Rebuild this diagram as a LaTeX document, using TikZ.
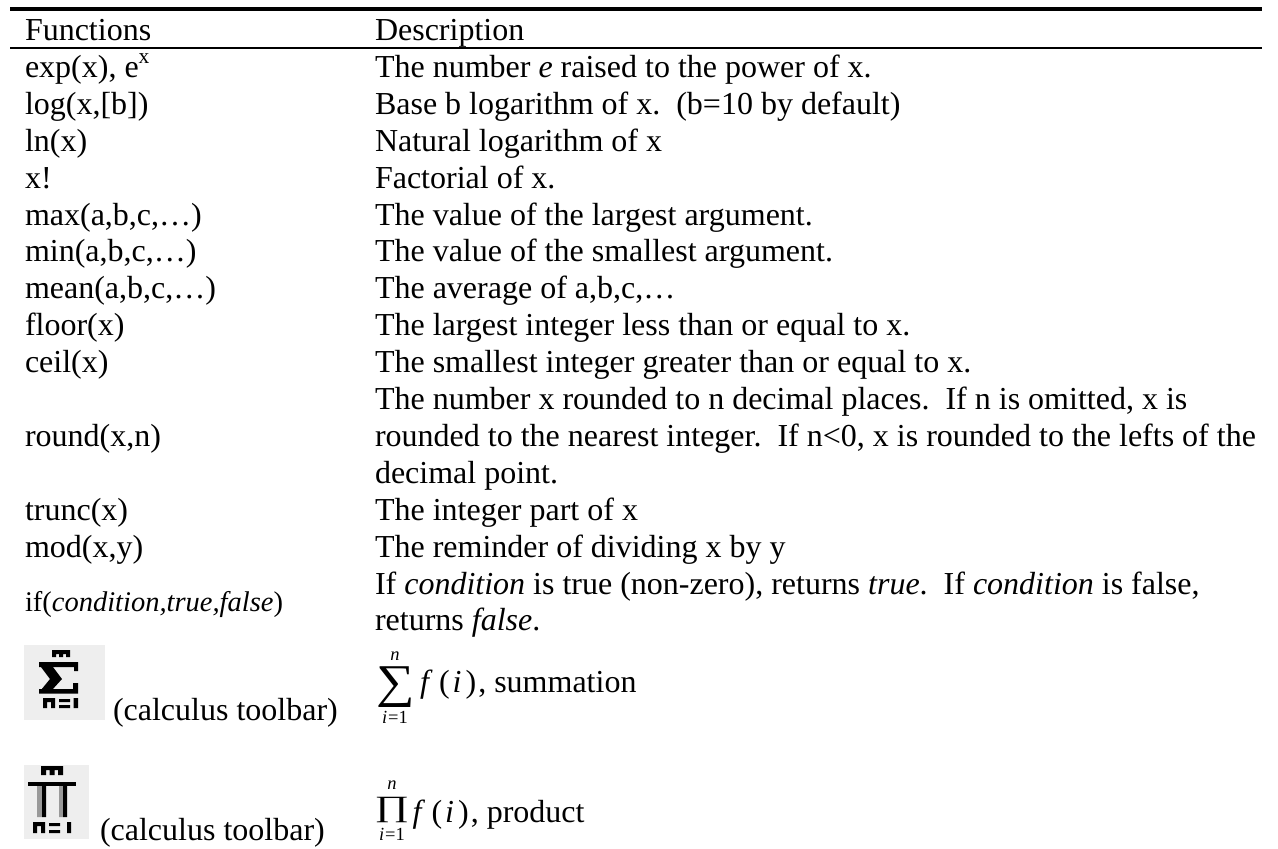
\documentclass[tikz,border=0pt]{standalone}
\usepackage{graphicx}
\usepackage{fontspec}
\setmainfont{Liberation Serif}
\tikzset{x=1pt,y=-1pt,
  cell/.style={anchor=base west,inner sep=0pt,outer sep=0pt,font=\fontsize{32}{36}\selectfont},
  ifcell/.style={cell,font=\fontsize{28.5}{30}\selectfont},
  limit/.style={anchor=base,inner sep=0pt,outer sep=0pt,font=\fontsize{18.5}{20}\selectfont},
  bigop/.style={anchor=base,inner sep=0pt,outer sep=0pt,font=\fontsize{47}{47}\selectfont},
  rulethick/.style={line width=3.8pt},
  rulethin/.style={line width=1.8pt},
  ink/.style={fill=black},
  inkgray/.style={fill=black!40}}
\definecolor{iconbg}{HTML}{EEEEEE}
\begin{document}
\begin{tikzpicture}
\useasboundingbox (0,0) rectangle (1278,849);
\coordinate (tl) at (10,9); \coordinate (tr) at (1262,9);
\coordinate (ml) at (10,48); \coordinate (mr) at (1262,48);
\draw[rulethick] (tl) -- (tr);
\draw[rulethin] (ml) -- (mr);
\foreach \n/\y/\a/\b in {
 r0/40.5/Functions/Description,
 r1/77.4/{exp(x), e\raisebox{.42em}{\fontsize{21.5}{21}\selectfont x}}/{The number \textit{e} raised to the power of x.},
 r2/114.3/{log(x,[b])}/{Base b logarithm of x.\ \ (b=10 by default)},
 r3/151.2/ln(x)/Natural logarithm of x,
 r4/188.1/x!/Factorial of x.,
 r5/225/{max(a,b,c,…)}/The value of the largest argument.,
 r6/261.9/{min(a,b,c,…)}/The value of the smallest argument.,
 r7/298.8/{mean(a,b,c,…)}/{The average of a,b,c,…},
 r8/335.7/floor(x)/The largest integer less than or equal to x.,
 r9/372.6/ceil(x)/The smallest integer greater than or equal to x.,
 r11/446.4/{round(x,n)}/{rounded to the nearest integer.\ \ If n<0, x is rounded to the lefts of the},
 r13/520.2/trunc(x)/The integer part of x,
 r14/557.1/{mod(x,y)}/The reminder of dividing x by y}
 {\node[cell] (\n a) at (25,\y) {\a}; \node[cell] (\n b) at (375,\y) {\b};}
\node[cell] (r10b) at (375,409.5) {The number x rounded to n decimal places.\ \ If n is omitted, x is};
\node[cell] (r12b) at (375,483.3) {decimal point.};
\node[cell] (r15b) at (375,594) {If \textit{condition} is true (non-zero), returns \textit{true}.\ \ If \textit{condition} is false,};
\node[cell] (r16b) at (375,630.9) {returns \textit{false}.};
\node[ifcell] (r15a) at (25,611) {if(\textit{condition,true,false})};
% sigma icon
\fill[iconbg] (24,645) rectangle (105,720);
\fill[ink] (52,650) rectangle (70,654) (52,650) rectangle (56,657) (59,650) rectangle (63,657) (66,650) rectangle (70,657);
\fill[ink] (39,662) rectangle (78,667) (74,662) rectangle (78,671);
\fill[ink] (41,667) -- (53,667) -- (62,679) -- (52,690) -- (41,690) -- (50,679) -- cycle;
\fill[ink] (39,689) rectangle (78,693.5) (73,683) rectangle (78,693);
\fill[ink] (43,698) rectangle (55,702) (43,698) rectangle (47,708) (51,700) rectangle (55,708) (59,699) rectangle (70,702) (59,705) rectangle (70,708) (73.5,698) rectangle (78,708);
% pi icon
\fill[iconbg] (24,765) rectangle (89,839);
\fill[ink] (41,766) rectangle (63,770) (41,766) rectangle (46,775) (49.5,766) rectangle (54.5,775) (58,766) rectangle (63,775);
\fill[ink] (28,782) rectangle (76,786);
\fill[inkgray] (37,786) rectangle (42,817) (59,786) rectangle (63,817);
\fill[ink] (42,786) rectangle (46,817) (63,786) rectangle (67,817);
\fill[ink] (33,822) rectangle (45,826) (33,822) rectangle (37,833) (41,824) rectangle (45,833) (49,823) rectangle (60,826) (49,830) rectangle (60,833) (67,822) rectangle (71,833);
\node[cell] (c1) at (113,720) {(calculus toolbar)};
\node[cell] (c2) at (100,840) {(calculus toolbar)};
% sum
\node[limit] (n1) at (395,660) {\textit{n}};
\node[bigop] (sum) at (396,697) {\scalebox{1.15}[1]{∑}};
\node[limit] (i1) at (395,723) {\textit{i}\hspace{1pt}=1};
\node[cell] (s1) at (420,692) {\textit{f}\hspace{6.5pt}(\hspace{3pt}\textit{i}\hspace{4pt})\hspace{2pt}, summation};
% product
\node[limit] (n2) at (392,789) {\textit{n}};
\node[bigop,font=\fontsize{42}{42}\selectfont] (prod) at (392,816.5) {\scalebox{1}[0.7]{∏}};
\node[limit] (i2) at (392,840) {\textit{i}\hspace{1pt}=1};
\node[cell] (s2) at (412.5,822) {\textit{f}\hspace{6.5pt}(\hspace{3pt}\textit{i}\hspace{4pt})\hspace{2pt}, product};
\end{tikzpicture}
\end{document}
